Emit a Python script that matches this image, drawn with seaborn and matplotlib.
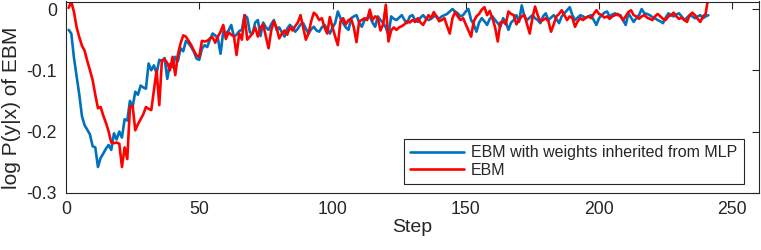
import numpy as np
import pandas as pd
import matplotlib
matplotlib.use('Agg')
import matplotlib.pyplot as plt
import seaborn as sns

# log P(y|x) per training step
ebm_mlp = [
    -0.034, -0.040, -0.080, -0.110, -0.140, -0.175, -0.190, -0.197, -0.205, -0.224,
    -0.226, -0.258, -0.243, -0.236, -0.228, -0.222, -0.230, -0.203, -0.213, -0.200,
    -0.210, -0.180, -0.182, -0.150, -0.160, -0.135, -0.140, -0.125, -0.128, -0.130,
    -0.089, -0.100, -0.092, -0.105, -0.083, -0.085, -0.080, -0.114, -0.090, -0.095,
    -0.078, -0.085, -0.064, -0.069, -0.052, -0.056, -0.062, -0.070, -0.081, -0.083,
    -0.065, -0.059, -0.062, -0.050, -0.040, -0.043, -0.048, -0.073, -0.037, -0.040,
    -0.035, -0.026, -0.045, -0.042, -0.036, -0.034, -0.010, -0.014, -0.038, -0.040,
    -0.022, -0.018, -0.044, -0.022, -0.030, -0.034, -0.025, -0.018, -0.034, -0.030,
    -0.038, -0.045, -0.032, -0.026, -0.030, -0.037, -0.032, -0.025, -0.023, -0.032,
    -0.040, -0.033, -0.029, -0.035, -0.037, -0.030, -0.026, -0.032, -0.040, -0.030,
    -0.023, -0.004, -0.015, -0.023, -0.030, -0.034, -0.015, -0.012, -0.010, -0.022,
    -0.029, -0.018, -0.015, -0.012, -0.022, -0.029, -0.012, -0.018, -0.023, -0.030,
    -0.043, -0.012, -0.016, -0.018, -0.014, -0.010, -0.018, -0.023, -0.012, -0.010,
    -0.018, -0.021, -0.014, -0.010, -0.015, -0.018, -0.016, -0.012, -0.012, -0.016,
    -0.012, -0.010, -0.008, -0.004, 0.000, -0.004, -0.007, -0.012, -0.010, -0.004,
    0.000, -0.018, -0.025, -0.037, -0.022, -0.015, -0.020, -0.026, -0.016, -0.012,
    -0.018, -0.023, -0.029, -0.015, -0.021, -0.034, -0.022, -0.018, -0.010, -0.021,
    0.006, -0.012, -0.018, -0.014, -0.010, -0.015, -0.018, -0.023, -0.012, -0.007,
    -0.018, -0.014, -0.010, -0.016, -0.023, -0.012, -0.007, -0.002, 0.003, -0.010,
    -0.018, -0.014, -0.010, -0.012, -0.015, -0.012, -0.010, -0.018, -0.026, -0.015,
    -0.010, -0.006, -0.004, -0.012, -0.009, -0.007, -0.010, -0.010, -0.018, -0.026,
    -0.007, -0.014, -0.021, -0.015, -0.010, 0.000, -0.007, -0.008, -0.010, -0.013,
    -0.015, -0.018, -0.020, -0.023, -0.014, -0.007, -0.010, -0.012, -0.009, -0.007,
    -0.012, -0.018, -0.014, -0.010, -0.012, -0.015, -0.012, -0.010, -0.015, -0.012,
    -0.010,
]

ebm = [
    0.002, 0.012, -0.005, -0.030, -0.046, -0.060, -0.068, -0.085, -0.100, -0.116,
    -0.140, -0.162, -0.160, -0.174, -0.186, -0.200, -0.218, -0.219, -0.218, -0.220,
    -0.258, -0.226, -0.245, -0.160, -0.158, -0.198, -0.188, -0.180, -0.172, -0.160,
    -0.163, -0.165, -0.133, -0.100, -0.157, -0.084, -0.082, -0.088, -0.100, -0.078,
    -0.108, -0.074, -0.056, -0.043, -0.045, -0.052, -0.059, -0.068, -0.076, -0.078,
    -0.052, -0.053, -0.052, -0.048, -0.046, -0.055, -0.045, -0.037, -0.026, -0.049,
    -0.038, -0.042, -0.044, -0.075, -0.040, -0.050, -0.010, -0.050, -0.045, -0.040,
    -0.030, -0.045, -0.030, -0.025, -0.045, -0.064, -0.035, -0.020, -0.030, -0.048,
    -0.040, -0.035, -0.042, -0.030, -0.035, -0.028, -0.022, -0.010, -0.030, -0.050,
    -0.040, -0.020, -0.006, -0.010, -0.018, -0.015, -0.030, -0.040, -0.013, -0.030,
    -0.045, -0.059, -0.020, -0.015, -0.025, -0.018, -0.016, -0.030, -0.054, -0.020,
    -0.018, -0.015, -0.018, -0.001, -0.018, -0.012, -0.015, -0.035, -0.025, 0.007,
    -0.053, -0.035, -0.030, -0.034, -0.030, -0.028, -0.025, -0.020, -0.022, -0.018,
    -0.021, -0.015, -0.022, -0.026, -0.018, -0.010, -0.015, -0.005, -0.012, -0.020,
    -0.018, -0.015, -0.028, -0.040, -0.015, -0.005, -0.012, -0.018, -0.015, -0.025,
    -0.035, -0.045, -0.020, -0.012, -0.008, -0.001, 0.003, -0.010, -0.003, -0.015,
    -0.030, -0.053, -0.022, -0.020, -0.025, -0.004, -0.008, -0.010, -0.025, -0.018,
    -0.012, -0.010, -0.025, -0.040, -0.015, 0.004, -0.010, -0.020, -0.018, -0.015,
    -0.020, -0.037, -0.025, -0.012, -0.008, -0.002, -0.010, -0.018, -0.012, -0.015,
    -0.029, -0.020, -0.015, -0.018, -0.014, -0.012, -0.015, -0.008, -0.002, -0.008,
    -0.010, -0.014, -0.012, -0.016, -0.012, -0.010, -0.008, -0.012, -0.018, -0.012,
    -0.005, -0.002, -0.010, -0.012, -0.016, -0.012, -0.010, -0.014, -0.016, -0.018,
    -0.012, -0.008, -0.012, -0.016, -0.018, -0.012, -0.010, -0.006, -0.012, -0.016,
    -0.014, -0.018, -0.021, -0.010, -0.006, -0.010, -0.016, -0.021, -0.012, -0.008,
    0.020,
]

series_names = ['EBM with weights inherited from MLP', 'EBM']
x_ticks = [0, 50, 100, 150, 200, 250]
y_ticks = [-0.3, -0.2, -0.1, 0]
y_tick_labels = ['-0.3', '-0.2', '-0.1', '0']

df = pd.DataFrame({
    'Step': list(range(1, len(ebm_mlp) + 1)) + list(range(1, len(ebm) + 1)),
    'logp': ebm_mlp + ebm,
    'Model': [series_names[0]] * len(ebm_mlp) + [series_names[1]] * len(ebm),
})

sns.set_style('white')
plt.rcParams['font.family'] = ['Liberation Sans', 'DejaVu Sans']
plt.rcParams['axes.unicode_minus'] = False

fig = plt.figure(figsize=(7.61, 2.5), dpi=100)
ax = fig.add_axes([0.0867, 0.229, 0.9106, 0.765])

sns.lineplot(data=df, x='Step', y='logp', hue='Model', hue_order=series_names,
             palette=['#0072BD', '#FF0000'], linewidth=1.9, ax=ax)

ax.set_xlim(0, 260)
ax.set_ylim(-0.3, 0.0123)
ax.set_xticks(x_ticks)
ax.set_yticks(y_ticks)
ax.set_yticklabels(y_tick_labels)
ax.tick_params(direction='in', length=5, width=0.8, top=True, right=True,
               labelsize=12.7, colors='#262626')
ax.tick_params(axis='y', pad=6.5)
ax.tick_params(axis='x', pad=6)
for sp in ax.spines.values():
    sp.set_color('#262626')
    sp.set_linewidth(0.8)

ax.set_xlabel('Step', fontsize=14, color='#262626', labelpad=1)
ax.set_ylabel('log P(y|x) of EBM', fontsize=15, color='#262626')
# matlab puts the y label a bit below the axes centre
ax.yaxis.set_label_coords(-0.0645, 0.443)

leg = ax.legend(loc='lower right', bbox_to_anchor=(0.978, 0.045), borderaxespad=0,
                fontsize=11.5, handlelength=3.4, frameon=True, fancybox=False,
                edgecolor='#262626', framealpha=1, borderpad=0.4, labelspacing=0.15,
                handletextpad=0.42)
leg.get_frame().set_linewidth(0.8)

fig.savefig('out.png', dpi=100)
